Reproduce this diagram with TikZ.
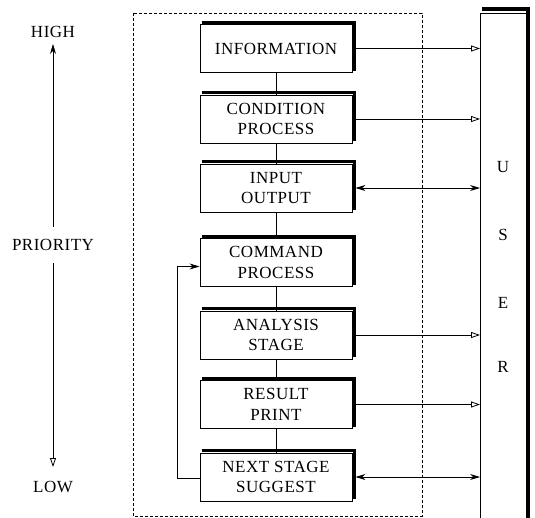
\documentclass[tikz,border=0pt]{standalone}
\usepackage{fontspec}
\setmainfont{Liberation Serif}[LetterSpace=3]
\usetikzlibrary{arrows.meta}
\tikzset{
  stagebox/.style={draw, line width=0.9pt, minimum width=152pt, minimum height=48pt, inner sep=0pt, align=center, font=\fontsize{17}{20.5}\selectfont},
  lbl/.style={font=\fontsize{17}{20}\selectfont, inner sep=0pt},
  shadowline/.style={line width=3pt},
  conn/.style={line width=0.8pt},
  openhead/.style={-{Triangle[open,length=9pt,width=6pt]}},
  fullhead/.style={-{Stealth[length=10pt,width=6pt]}},
  bothhead/.style={{Stealth[length=10pt,width=6pt]}-{Stealth[length=10pt,width=6pt]}},
}
\newcommand{\shadowbox}[1]{%
  \draw[shadowline] ([xshift=2pt,yshift=2pt]#1.north west) -- ([xshift=2pt,yshift=2pt]#1.north east) -- ([xshift=2pt,yshift=2pt]#1.south east);}
\begin{document}
\begin{tikzpicture}[x=1pt,y=-1pt]
\useasboundingbox (0,0) rectangle (535,518);
% dashed frame
\draw[dash pattern=on 3pt off 2pt, line width=0.7pt] (133,13) rectangle (422,516);
% stage boxes
\node[stagebox] (info) at (276,48.5) {INFORMATION};
\node[stagebox] (cond) at (276,119) {CONDITION\\PROCESS};
\node[stagebox] (io)   at (276,188) {INPUT\\OUTPUT};
\node[stagebox] (cmd)  at (276,262.5) {COMMAND\\PROCESS};
\node[stagebox] (ana)  at (276,335) {ANALYSIS\\STAGE};
\node[stagebox] (res)  at (276,404.5) {RESULT\\PRINT};
\node[stagebox] (next) at (276,477) {NEXT STAGE\\SUGGEST};
\foreach \b in {info,cond,io,cmd,ana,res,next} {\shadowbox{\b}}
% vertical links
\draw[conn] (info) -- (cond);
\draw[conn] (cond) -- (io);
\draw[conn] (io) -- (cmd);
\draw[conn] (cmd) -- (ana);
\draw[conn] (ana) -- (res);
\draw[conn] (res) -- (next);
% USER column
\node[draw, line width=0.9pt, minimum width=48pt, minimum height=510pt, inner sep=0pt, anchor=north west] (user) at (480,13) {};
\draw[line width=3.2pt] (482,9) -- (528,9) -- (528,518);
\node[lbl] (u) at (503,167) {U};
\node[lbl] (s) at (503,235) {S};
\node[lbl] (e) at (503,303) {E};
\node[lbl] (r) at (503,367) {R};
% arrows to user
\draw[conn, openhead] ([xshift=3pt]info.east) -- (info.east -| user.west);
\draw[conn, openhead] ([xshift=3pt]cond.east) -- (cond.east -| user.west);
\draw[conn, bothhead] ([xshift=3pt]io.east) -- (io.east -| user.west);
\draw[conn, openhead] ([xshift=3pt]ana.east) -- (ana.east -| user.west);
\draw[conn, openhead] ([xshift=3pt]res.east) -- (res.east -| user.west);
\draw[conn, bothhead] ([xshift=3pt]next.east) -- (next.east -| user.west);
% feedback loop
\draw[conn, fullhead] ([yshift=-1pt]next.west) -- ++(-22,0) |- ([yshift=-4pt]cmd.west);
% priority axis
\node[lbl] (high) at (53,32) {HIGH};
\node[lbl] (prio) at (53,245) {PRIORITY};
\node[lbl] (low) at (53,487) {LOW};
\coordinate (pt) at (53,227);
\coordinate (pb) at (53,263);
\coordinate (ht) at (53,44);
\coordinate (lb) at (53,467);
\draw[conn, fullhead] (pt) -- (ht);
\draw[conn, openhead] (pb) -- (lb);
\end{tikzpicture}
\end{document}
